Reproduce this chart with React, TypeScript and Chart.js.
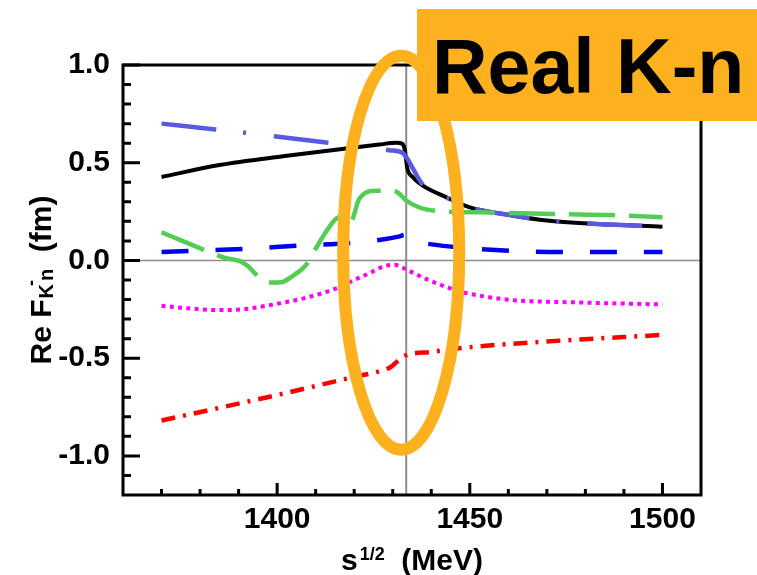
import React, { useEffect, useRef } from "react";
import { Chart, registerables } from "chart.js";

Chart.register(...registerables);

const FONT = "'Liberation Sans', Arial, Helvetica, sans-serif";

// axis ranges and ticks
const xMin = 1360;
const xMax = 1510;
const yMin = -1.2;
const yMax = 1.0;
const xMajorTicks = [1400, 1450, 1500];
const xTickLabels = ["1400", "1450", "1500"];
const xMinorTicks = [1370, 1380, 1390, 1410, 1420, 1430, 1440, 1460, 1470, 1480, 1490];
const yMajorTicks = [-1.0, -0.5, 0, 0.5, 1.0];
const yTickLabels = ["-1.0", "-0.5", "0.0", "0.5", "1.0"];
const yMinorTicks = [-1.1, -0.9, -0.8, -0.7, -0.6, -0.4, -0.3, -0.2, -0.1, 0.1, 0.2, 0.3, 0.4, 0.6, 0.7, 0.8, 0.9];
const thresholdX = 1433.5;

// series: black solid
const blackX = [1370, 1385, 1402, 1419.5, 1426.5, 1431, 1432.4, 1433.1, 1433.8, 1435.1, 1437.7, 1443.8, 1449.8, 1461, 1470, 1483, 1500];
const blackY = [0.427, 0.488, 0.534, 0.577, 0.593, 0.602, 0.598, 0.568, 0.47, 0.428, 0.384, 0.324, 0.273, 0.23, 0.204, 0.187, 0.173];

// slate-blue long dash-dot
const slateX = [1370, 1384, 1391.7, 1399.2, 1413.5, 1421.3, 1429.1, 1432.5, 1433.8, 1435.1, 1437.7, 1443.8, 1449.8, 1461, 1470, 1483, 1500];
const slateY = [0.70, 0.67, 0.653, 0.635, 0.602, 0.585, 0.564, 0.551, 0.52, 0.475, 0.39, 0.324, 0.273, 0.23, 0.204, 0.187, 0.173];

// green dashed
const greenX = [1370, 1376, 1382.4, 1386.7, 1390.5, 1392.5, 1395, 1398.5, 1401, 1404, 1407.4, 1410, 1412.6, 1415.2, 1417.6, 1419, 1421.3, 1425.6, 1429.9, 1431.5, 1433.4, 1436.9, 1441.2, 1452.4, 1473.2, 1487, 1500];
const greenY = [0.144, 0.095, 0.043, 0.012, -0.005, -0.03, -0.08, -0.113, -0.112, -0.08, -0.025, 0.06, 0.144, 0.212, 0.229, 0.195, 0.314, 0.356, 0.356, 0.345, 0.308, 0.271, 0.254, 0.246, 0.237, 0.232, 0.221];

// blue dashed
const blueX = [1370, 1391, 1405.7, 1419.5, 1428.2, 1431.5, 1433.3, 1435, 1440.7, 1446.4, 1462, 1476.6, 1491.4, 1500];
const blueY = [0.043, 0.059, 0.076, 0.09, 0.11, 0.122, 0.131, 0.105, 0.081, 0.068, 0.048, 0.043, 0.043, 0.043];

// magenta dotted
const magentaX = [1370, 1377, 1385, 1392, 1398, 1406.6, 1415.2, 1420, 1424, 1427, 1430.5, 1433.4, 1436, 1439.5, 1448.1, 1455, 1461.1, 1478.4, 1500];
const magentaY = [-0.232, -0.245, -0.254, -0.248, -0.229, -0.195, -0.144, -0.1, -0.065, -0.035, -0.022, -0.045, -0.07, -0.102, -0.162, -0.188, -0.203, -0.215, -0.225];

// red dash-dot
const redX = [1370, 1385, 1402.3, 1419.5, 1426.5, 1429.5, 1431.7, 1433.4, 1440, 1447.2, 1469.7, 1500];
const redY = [-0.819, -0.754, -0.678, -0.598, -0.567, -0.545, -0.508, -0.486, -0.468, -0.449, -0.415, -0.381];

const ORANGE = "#fdb11f";

function pts(xs: number[], ys: number[]) {
  return xs.map((x, i) => ({ x, y: ys[i] }));
}

const decorPlugin = {
  id: "decor",
  beforeDatasetsDraw(chart: any) {
    const { ctx, chartArea: a, scales } = chart;
    const x = scales.x;
    const y = scales.y;
    ctx.save();
    ctx.strokeStyle = "#8c8c8c";
    ctx.lineWidth = 1.5;
    const y0 = y.getPixelForValue(0);
    ctx.beginPath();
    ctx.moveTo(a.left, y0);
    ctx.lineTo(a.right, y0);
    ctx.stroke();
    ctx.lineWidth = 2;
    const xt = x.getPixelForValue(thresholdX);
    ctx.beginPath();
    ctx.moveTo(xt, a.top);
    ctx.lineTo(xt, a.bottom);
    ctx.stroke();
    ctx.restore();
  },
  afterDatasetsDraw(chart: any) {
    const { ctx, chartArea: a, scales } = chart;
    const x = scales.x;
    const y = scales.y;
    ctx.save();
    ctx.strokeStyle = "#000";
    ctx.lineWidth = 3;
    ctx.lineCap = "butt";
    ctx.strokeRect(a.left, a.top, a.right - a.left, a.bottom - a.top);
    ctx.beginPath();
    xMajorTicks.forEach((v) => {
      const p = x.getPixelForValue(v);
      ctx.moveTo(p, a.bottom);
      ctx.lineTo(p, a.bottom - 12);
    });
    xMinorTicks.forEach((v) => {
      const p = x.getPixelForValue(v);
      ctx.moveTo(p, a.bottom);
      ctx.lineTo(p, a.bottom - 6);
    });
    yMajorTicks.forEach((v) => {
      const p = y.getPixelForValue(v);
      ctx.moveTo(a.left, p);
      ctx.lineTo(a.left + 17, p);
    });
    yMinorTicks.forEach((v) => {
      const p = y.getPixelForValue(v);
      ctx.moveTo(a.left, p);
      ctx.lineTo(a.left + 8, p);
    });
    ctx.stroke();
    ctx.restore();
  },
  afterDraw(chart: any) {
    const { ctx, chartArea: a, scales } = chart;
    const x = scales.x;
    const y = scales.y;
    ctx.save();
    // highlight ellipse around the threshold
    const cx = x.getPixelForValue(1432.2);
    const cy = y.getPixelForValue(0.04);
    ctx.strokeStyle = ORANGE;
    ctx.lineWidth = 12;
    ctx.beginPath();
    ctx.ellipse(cx, cy, 58, 197, 0, 0, Math.PI * 2);
    ctx.stroke();
    // label box
    ctx.fillStyle = ORANGE;
    ctx.fillRect(417, 9, 340, 112);
    ctx.fillStyle = "#000";
    ctx.font = `bold 77px ${FONT}`;
    ctx.textAlign = "left";
    ctx.textBaseline = "alphabetic";
    ctx.fillText("Real K-n", 432, 93);

    // x axis title: s^{1/2}  (MeV)
    const big = `bold 30px ${FONT}`;
    const sup = `bold 18px ${FONT}`;
    ctx.font = big;
    const wS = ctx.measureText("s").width;
    const wM = ctx.measureText("  (MeV)").width;
    ctx.font = sup;
    const wH = ctx.measureText("1/2").width;
    const totalX = wS + 2 + wH + wM;
    let sx = (a.left + a.right) / 2 - totalX / 2;
    const by = 570;
    ctx.font = big;
    ctx.fillText("s", sx, by);
    sx += wS + 2;
    ctx.font = sup;
    ctx.fillText("1/2", sx, by - 10);
    sx += wH;
    ctx.font = big;
    ctx.fillText("  (MeV)", sx, by);

    // y axis title: Re F_{K^- n}  (fm)
    ctx.save();
    ctx.translate(51, (a.top + a.bottom) / 2);
    ctx.rotate(-Math.PI / 2);
    const small = `bold 20px ${FONT}`;
    const tiny = `bold 18px ${FONT}`;
    ctx.font = big;
    const w1 = ctx.measureText("Re F").width;
    const w2 = ctx.measureText("  (fm)").width;
    ctx.font = small;
    const wK = ctx.measureText("K").width;
    const wn = ctx.measureText("n").width;
    const totalY = w1 + 1 + wK + 3 + wn + w2;
    let tx = -totalY / 2;
    ctx.font = big;
    ctx.fillText("Re F", tx, 0);
    tx += w1 + 1;
    ctx.font = small;
    ctx.fillText("K", tx, 2);
    ctx.font = tiny;
    ctx.fillText("-", tx + wK - 2, -14);
    tx += wK + 3;
    ctx.font = small;
    ctx.fillText("n", tx, 2);
    tx += wn;
    ctx.font = big;
    ctx.fillText("  (fm)", tx, 0);
    ctx.restore();

    ctx.restore();
  },
};

export default function App() {
  const ref = useRef<HTMLCanvasElement | null>(null);
  useEffect(() => {
    if (!ref.current) return;
    const lineBase = {
      pointRadius: 0,
      pointHoverRadius: 0,
      fill: false,
      cubicInterpolationMode: "monotone" as const,
      borderCapStyle: "butt" as const,
    };
    const chart = new Chart(ref.current, {
      type: "line",
      data: {
        datasets: [
          { ...lineBase, label: "green", data: pts(greenX, greenY), borderColor: "#55cc55", borderWidth: 4.5, borderDash: [46, 14] },
          { ...lineBase, label: "blue", data: pts(blueX, blueY), borderColor: "#0000f0", borderWidth: 4.5, borderDash: [27, 27] },
          { ...lineBase, label: "magenta", data: pts(magentaX, magentaY), borderColor: "#ff00ff", borderWidth: 4, borderDash: [4, 4.3] },
          { ...lineBase, label: "red", data: pts(redX, redY), borderColor: "#ff0000", borderWidth: 4.5, borderDash: [14, 8, 3, 8] },
          { ...lineBase, label: "slate", data: pts(slateX, slateY), borderColor: "#5a5ae0", borderWidth: 4.5, borderDash: [55, 27, 3, 28] },
          { ...lineBase, label: "black", data: pts(blackX, blackY), borderColor: "#000000", borderWidth: 4 },
        ],
      },
      options: {
        responsive: false,
        animation: false,
        events: [],
        layout: { padding: { top: 65, right: 56, left: 0, bottom: 0 } },
        plugins: { legend: { display: false }, tooltip: { enabled: false }, title: { display: false } },
        scales: {
          x: {
            type: "linear",
            min: xMin,
            max: xMax,
            grid: { display: false, drawTicks: false },
            border: { display: false },
            afterBuildTicks: (s: any) => {
              s.ticks = xMajorTicks.map((v) => ({ value: v }));
            },
            afterFit: (s: any) => {
              s.height = 80;
            },
            ticks: {
              color: "#000",
              padding: 7,
              maxRotation: 0,
              font: { family: FONT, size: 30, weight: "bold" },
              callback: (v: any) => {
                const i = xMajorTicks.indexOf(Number(v));
                return i >= 0 ? xTickLabels[i] : "";
              },
            },
          },
          y: {
            type: "linear",
            min: yMin,
            max: yMax,
            grid: { display: false, drawTicks: false },
            border: { display: false },
            afterBuildTicks: (s: any) => {
              s.ticks = yMajorTicks.map((v) => ({ value: v }));
            },
            afterFit: (s: any) => {
              s.width = 123;
            },
            ticks: {
              color: "#000",
              padding: 13,
              font: { family: FONT, size: 30, weight: "bold" },
              callback: (v: any) => {
                const i = yMajorTicks.findIndex((t) => Math.abs(t - Number(v)) < 1e-6);
                return i >= 0 ? yTickLabels[i] : "";
              },
            },
          },
        },
      },
      plugins: [decorPlugin],
    });
    return () => chart.destroy();
  }, []);
  return (
    <div style={{ position: "absolute", left: 0, top: 0, width: 757, height: 575, background: "#fff" }}>
      <canvas ref={ref} width={757} height={575} style={{ display: "block", width: 757, height: 575 }} />
    </div>
  );
}
